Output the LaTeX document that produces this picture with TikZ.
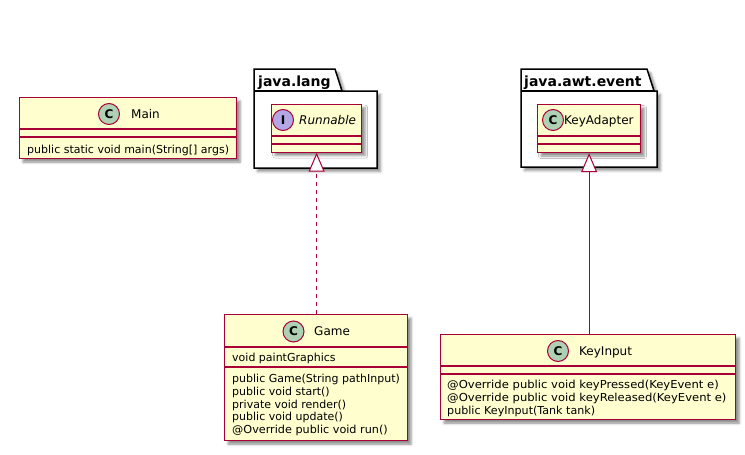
\documentclass[tikz,border=0pt]{standalone}
\usepackage{fontspec}
\setmainfont{DejaVu Sans}
\usetikzlibrary{arrows.meta,shadows.blur}
\definecolor{umlred}{HTML}{A80036}
\definecolor{umlfill}{HTML}{FEFECE}
\definecolor{spotc}{HTML}{ADD1B2}
\definecolor{spoti}{HTML}{B4A7E5}
\tikzset{
  shad/.style={blur shadow={shadow xshift=3.5pt,shadow yshift=-3.5pt,shadow blur radius=2.5pt,shadow opacity=45}},
  cls/.style={draw=umlred,fill=umlfill,line width=1.2pt,anchor=north west,inner sep=0pt,shad},
  sep/.style={draw=umlred,line width=1.1pt},
  pkg/.style={draw=black,fill=white,line width=1.5pt,line join=miter,shad},
  spot/.style={circle,draw=umlred,line width=1pt,minimum size=21pt,inner sep=0pt,font=\fontsize{12}{12}\selectfont\bfseries},
  cname/.style={anchor=base west,inner sep=0pt,font=\fontsize{12}{14}\selectfont},
  member/.style={anchor=base west,inner sep=0pt,font=\fontsize{11}{13}\selectfont},
  pname/.style={anchor=base west,inner sep=0pt,font=\fontsize{14}{16}\selectfont\bfseries},
  ext/.style={draw=umlred,line width=1pt,-{Triangle[open,length=19pt,width=16pt,fill=white]}},
}
\begin{document}
\begin{tikzpicture}[x=1pt,y=-1pt]
\useasboundingbox (0,0) rectangle (745,455);
% packages
\path[pkg] (254,91) -- (254,69) -- (335,69) -- (342,91) -- (377,91) -- (377,168) -- (254,168) -- cycle;
\draw[line width=1.5pt] (254,91) -- (342,91);
\node[pname] (plang) at (258,86) {java.lang};
\path[pkg] (521,91) -- (521,69) -- (647,69) -- (654,91) -- (657,91) -- (657,167) -- (521,167) -- cycle;
\draw[line width=1.5pt] (521,91) -- (654,91);
\node[pname] (pawt) at (524,86) {java.awt.event};
% Main
\node[cls,minimum width=217pt,minimum height=61pt] (main) at (19,97) {};
\draw[sep] (19,129) -- (236,129);
\draw[sep] (19,137) -- (236,137);
\node[spot,fill=spotc] (mainspot) at (109,114) {C};
\node[cname] (mainname) at (131,118) {Main};
\node[member] (mainm1) at (27,153) {public static void main(String[] args)};
% Runnable
\node[cls,minimum width=90pt,minimum height=48pt] (runnable) at (271,103.5) {};
\draw[sep] (271,136) -- (361,136);
\draw[sep] (271,144) -- (361,144);
\node[spot,fill=spoti] (runspot) at (283,120) {I};
\node[cname,font=\fontsize{12}{14}\selectfont\itshape] (runname) at (299,124.5) {Runnable};
% KeyAdapter
\node[cls,minimum width=103pt,minimum height=48pt] (keyadapter) at (537,104) {};
\draw[sep] (537,136) -- (640,136);
\draw[sep] (537,144) -- (640,144);
\node[spot,fill=spotc] (kaspot) at (553,120) {C};
\node[cname] (kaname) at (564,124.5) {KeyAdapter};
% Game
\node[cls,minimum width=183pt,minimum height=126pt] (game) at (224,314) {};
\draw[sep] (224,347) -- (407,347);
\draw[sep] (224,367) -- (407,367);
\node[spot,fill=spotc] (gamespot) at (293.5,331.5) {C};
\node[cname] (gamename) at (314,335.5) {Game};
\node[member] (ga1) at (232,361.5) {void paintGraphics};
\node[member] (gm1) at (232,382.5) {public Game(String pathInput)};
\node[member] (gm2) at (232,395.3) {public void start()};
\node[member] (gm3) at (232,408.1) {private void render()};
\node[member] (gm4) at (232,420.9) {public void update()};
\node[member] (gm5) at (232,433.7) {\scalebox{1.02}[1]{@Override public void run()}};
% KeyInput
\node[cls,minimum width=295pt,minimum height=85pt] (keyinput) at (440,334) {};
\draw[sep] (440,366) -- (735,366);
\draw[sep] (440,374) -- (735,374);
\node[spot,fill=spotc] (kispot) at (558,351) {C};
\node[cname] (kiname) at (579,355) {KeyInput};
\node[member] (km1) at (447,388) {\scalebox{1.054}[1]{@Override public void keyPressed(KeyEvent e)}};
\node[member] (km2) at (447,401.2) {\scalebox{1.054}[1]{@Override public void keyReleased(KeyEvent e)}};
\node[member] (km3) at (447,414.4) {\scalebox{1.01}[1]{public KeyInput(Tank tank)}};
% relations
\draw[ext,dash pattern=on 4pt off 4pt] (runnable.south |- game.north) -- (runnable.south);
\draw[ext] (keyadapter.south |- keyinput.north) -- (keyadapter.south);
\end{tikzpicture}
\end{document}
